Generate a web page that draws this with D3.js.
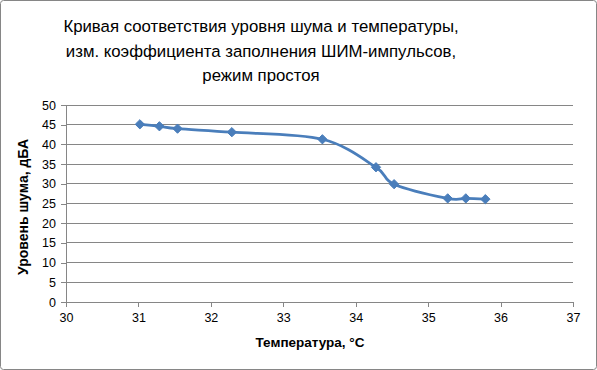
<!DOCTYPE html>
<html lang="ru">
<head>
<meta charset="utf-8">
<title>Кривая шума</title>
<style>
    body { margin: 0; background: #fff; }
    svg { display: block; font-family: "Liberation Sans", Arial, sans-serif; }
    .grid line { stroke: #868686; stroke-width: 1; shape-rendering: crispEdges; }
    .axis path, .axis line { stroke: #868686; shape-rendering: crispEdges; }
    .axis text { font-size: 12.5px; fill: #000; }
    .title { font-size: 16.8px; fill: #000; }
    .atitle { font-weight: bold; fill: #000; }
</style>
</head>
<body>
<svg width="597" height="370"></svg>
<script src="https://cdn.jsdelivr.net/npm/d3@7"></script>
<script>
    // данные: температура (°C) и уровень шума (дБА)
    const temperature = [31.02, 31.29, 31.54, 32.29, 33.54, 34.28, 34.53, 35.27, 35.52, 35.79];
    const noise = [45.1, 44.6, 44.0, 43.1, 41.3, 34.2, 29.9, 26.3, 26.3, 26.1];
    const xTicks = [30, 31, 32, 33, 34, 35, 36, 37];
    const yTicks = [0, 5, 10, 15, 20, 25, 30, 35, 40, 45, 50];
    const titleLines = ["Кривая соответствия уровня шума и температуры,",
        "изм. коэффициента заполнения ШИМ-импульсов,",
        "режим простоя"];

    const data = temperature.map((t, i) => ({t: t, n: noise[i]}));

    const svg = d3.select("svg");
    const plotLeft = 66, plotRight = 573, plotTop = 105, plotBottom = 302;

    const x = d3.scaleLinear().domain([30, 37]).range([plotLeft, plotRight]);
    const y = d3.scaleLinear().domain([0, 50]).range([plotBottom, plotTop]);

    // рамка диаграммы
    svg.append("rect")
        .attr("x", 0.5).attr("y", 0.5)
        .attr("width", 596).attr("height", 369)
        .attr("rx", 3)
        .attr("fill", "#fff")
        .attr("stroke", "#868686");

    // заголовок
    svg.append("g").selectAll("text")
        .data(titleLines)
        .enter().append("text")
        .attr("class", "title")
        .attr("x", 261)
        .attr("y", (d, i) => 32 + i * 24.5)
        .attr("text-anchor", "middle")
        .text(d => d);

    // сетка
    svg.append("g").attr("class", "grid")
        .selectAll("line")
        .data(yTicks.slice(1))
        .enter().append("line")
        .attr("x1", plotLeft).attr("x2", plotRight)
        .attr("y1", d => y(d)).attr("y2", d => y(d));

    // оси
    svg.append("g")
        .attr("class", "axis")
        .attr("transform", "translate(0," + plotBottom + ")")
        .call(d3.axisBottom(x).tickValues(xTicks).tickFormat(d3.format("d"))
            .tickSizeOuter(0).tickSize(5).tickPadding(6));

    svg.append("g")
        .attr("class", "axis")
        .attr("transform", "translate(" + plotLeft + ",0)")
        .call(d3.axisLeft(y).tickValues(yTicks).tickSizeOuter(0).tickSize(5).tickPadding(5));

    svg.selectAll(".axis").attr("font-family", null).attr("font-size", null);

    // подписи осей
    svg.append("text")
        .attr("class", "atitle")
        .attr("x", 310).attr("y", 347)
        .attr("font-size", 13.5)
        .attr("text-anchor", "middle")
        .text("Температура, °C");

    svg.append("text")
        .attr("class", "atitle")
        .attr("font-size", 14)
        .attr("transform", "translate(28,207) rotate(-90)")
        .attr("text-anchor", "middle")
        .text("Уровень шума, дБА");

    // линия
    const line = d3.line()
        .x(d => x(d.t))
        .y(d => y(d.n))
        .curve(d3.curveCardinal.tension(0));

    svg.append("path")
        .datum(data)
        .attr("fill", "none")
        .attr("stroke", "#4a7ebb")
        .attr("stroke-width", 2.75)
        .attr("d", line);

    // маркеры
    svg.append("g").selectAll("path")
        .data(data)
        .enter().append("path")
        .attr("transform", d => "translate(" + x(d.t) + "," + y(d.n) + ")")
        .attr("d", d3.symbol().type(d3.symbolDiamond2).size(55))
        .attr("fill", "#4a7ebb")
        .attr("stroke", "#4a7ebb")
        .attr("stroke-width", 1);
</script>
</body>
</html>
